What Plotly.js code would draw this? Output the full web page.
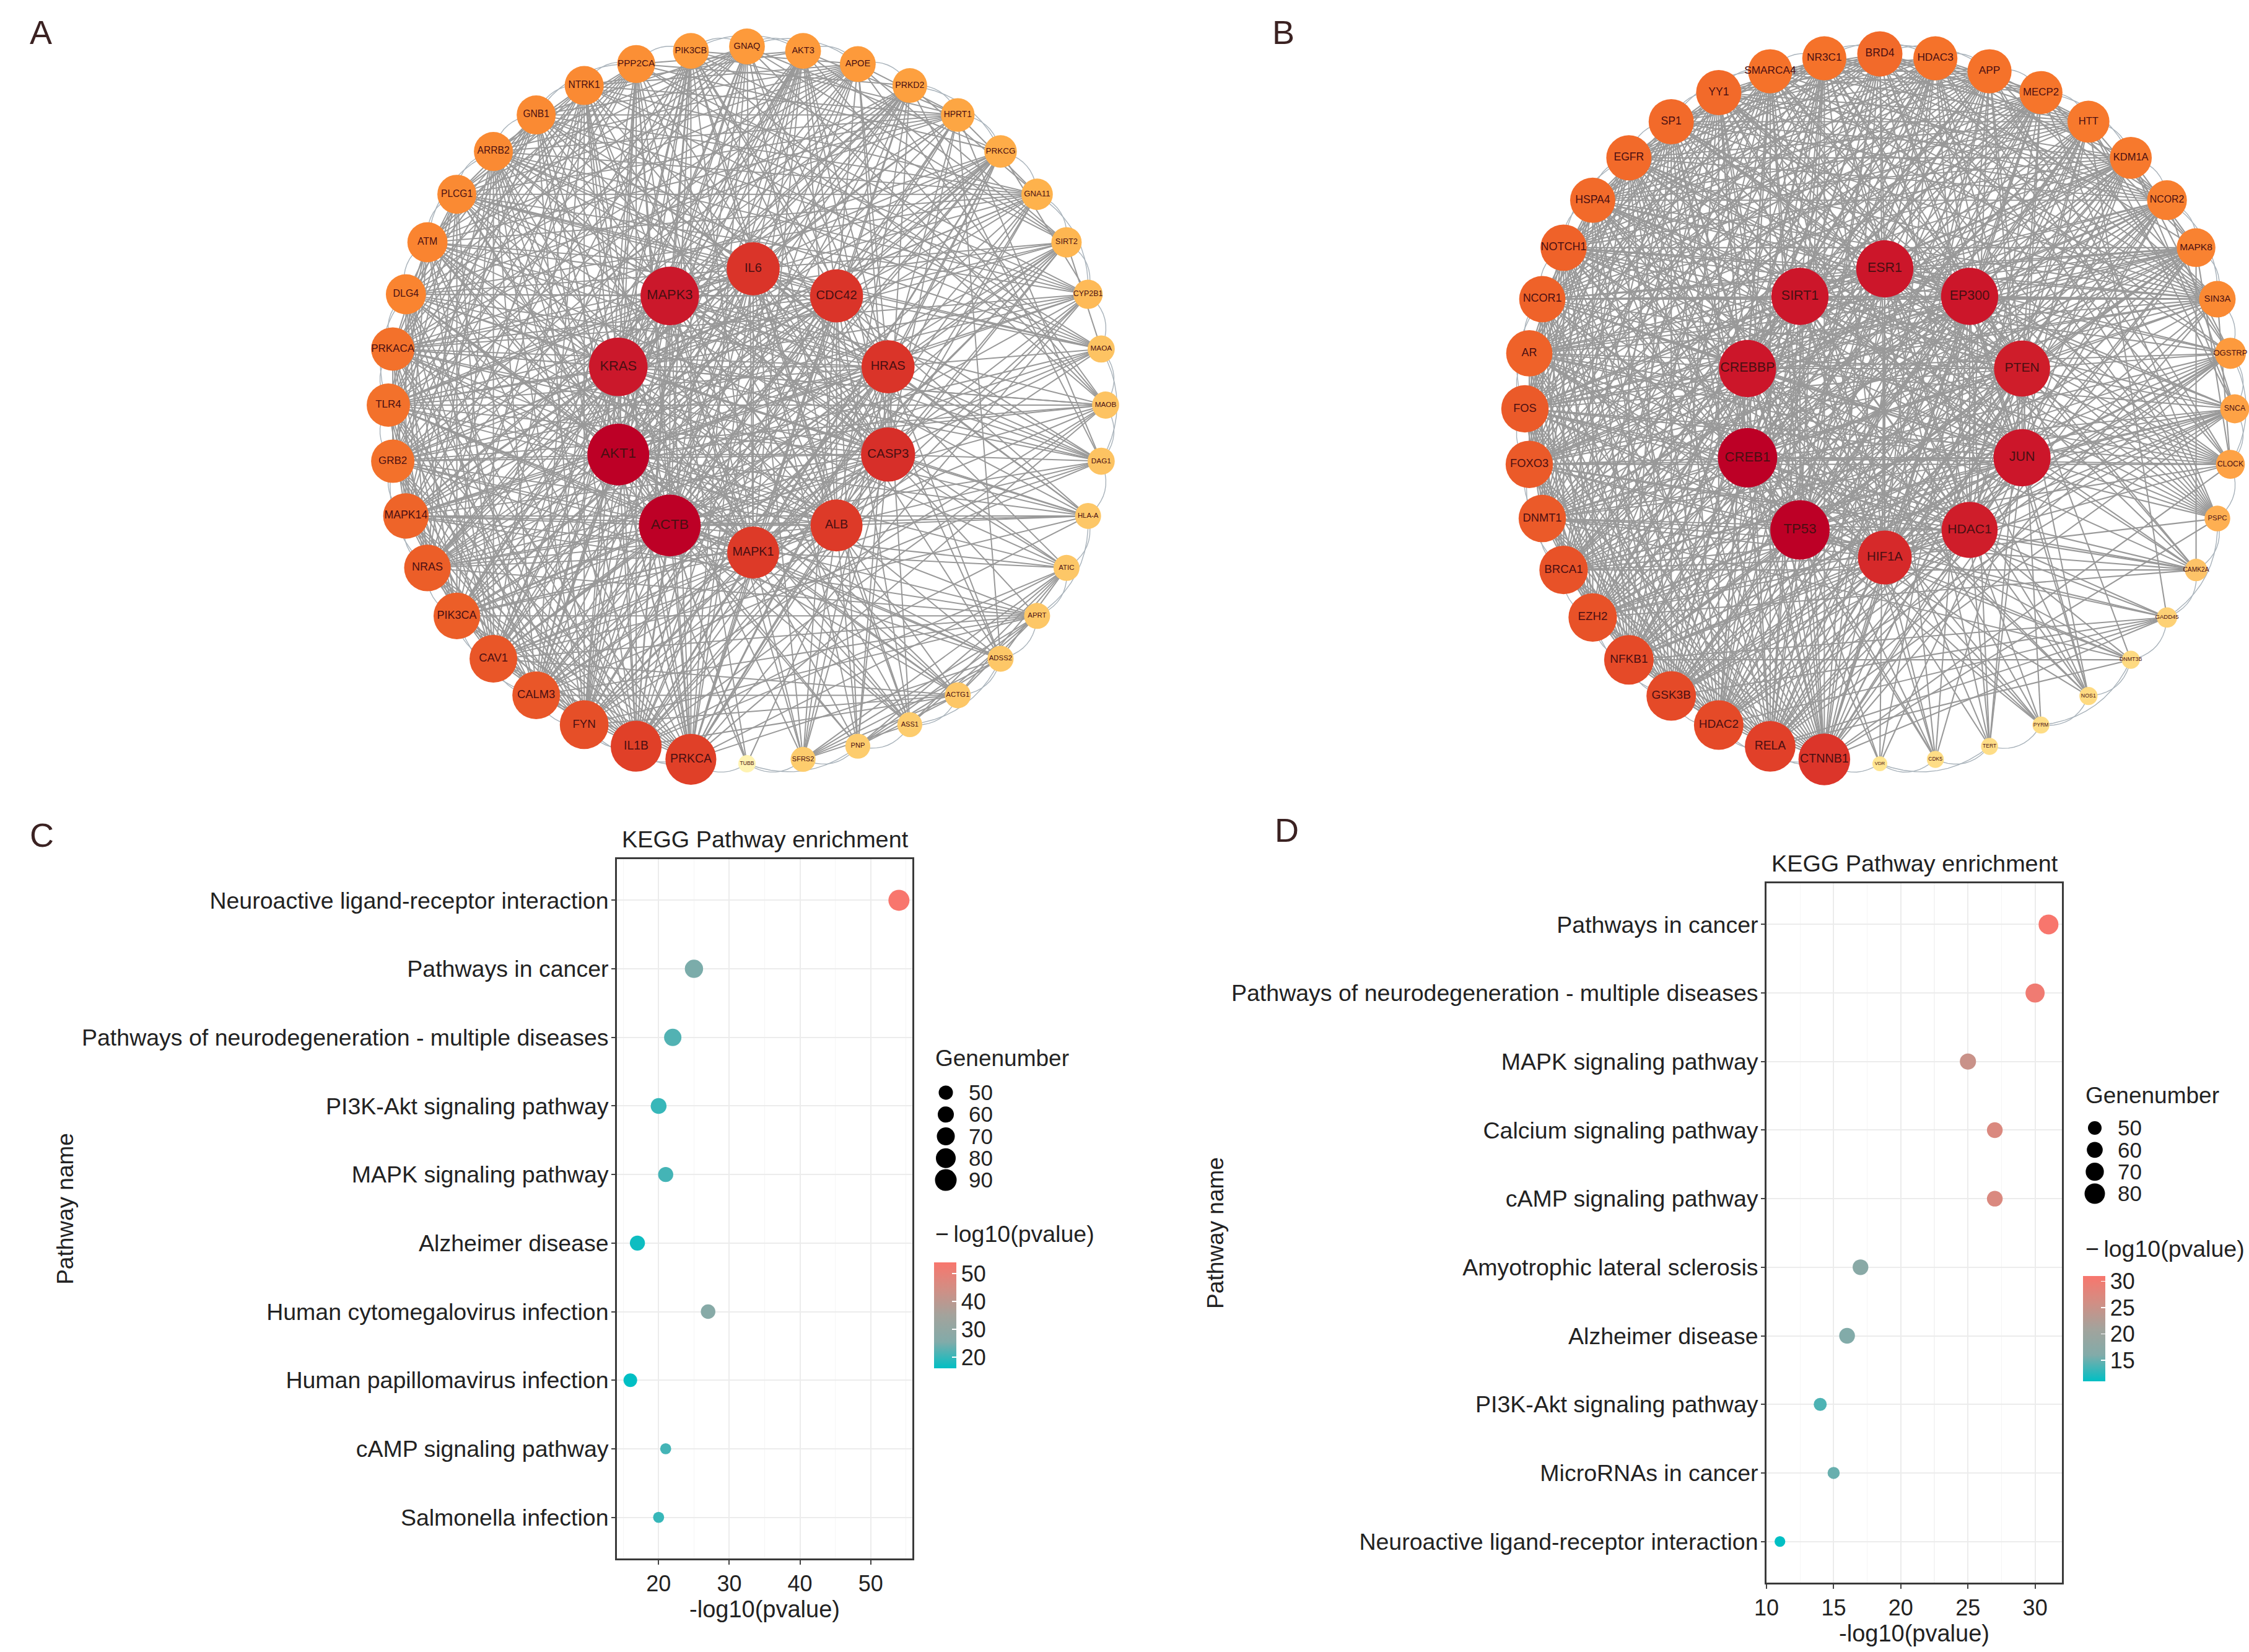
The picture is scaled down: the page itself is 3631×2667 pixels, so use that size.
<!DOCTYPE html>
<html><head><meta charset="utf-8">
<script src="https://cdn.plot.ly/plotly-3.0.1.min.js"></script>
<style>html,body{margin:0;padding:0;background:#fff}</style></head>
<body><div id="chart" style="width:3631px;height:2667px"></div>
<script>
// ---------- DATA: network A ----------
const innerNamesA = ["IL6","CDC42","HRAS","CASP3","ALB","MAPK1","ACTB","AKT1","KRAS","MAPK3"];
const innerDegA   = [41,41,41,42,40,40,49,49,46,46];
const outerNamesA = ["GNAQ","AKT3","APOE","PRKD2","HPRT1","PRKCG","GNA11","SIRT2","CYP2B1","MAOA","MAOB","DAG1","HLA-A","ATIC","APRT","ADSS2","ACTG1","ASS1","PNP","SFRS2","TUBB","PRKCA","IL1B","FYN","CALM3","CAV1","PIK3CA","NRAS","MAPK14","GRB2","TLR4","PRKACA","DLG4","ATM","PLCG1","ARRB2","GNB1","NTRK1","PPP2CA","PIK3CB"];
const outerDegA   = [25,25,25,24,23,22,21,20,19,17,17,17,16,16,16,16,16,15,15,15,8,39,39,37,36,36,35,35,34,32,32,32,29,29,28,28,28,28,27,25];
const clusterA    = ["ATIC","APRT","ADSS2","ACTG1","ASS1","PNP","SFRS2"];
// ---------- DATA: network B ----------
const innerNamesB = ["ESR1","EP300","PTEN","JUN","HDAC1","HIF1A","TP53","CREB1","CREBBP","SIRT1"];
const innerDegB   = [47,47,46,47,46,44,49,49,47,47];
const outerNamesB = ["BRD4","HDAC3","APP","MECP2","HTT","KDM1A","NCOR2","MAPK8","SIN3A","OGSTRP","SNCA","CLOCK","PSPC","CAMK2A","GADD45","DNMT3B","NOS1","PYRM","TERT","CDK5","VDR","CTNNB1","RELA","HDAC2","GSK3B","NFKB1","EZH2","BRCA1","DNMT1","FOXO3","FOS","AR","NCOR1","NOTCH1","HSPA4","EGFR","SP1","YY1","SMARCA4","NR3C1"];
const outerDegB   = [36,35,35,34,33,33,31,30,28,23,21,21,18,15,13,11,11,10,10,10,8,42,41,40,40,40,39,39,38,38,38,37,37,37,36,36,36,36,35,35];
// ---------- DATA: panel C ----------
const pathwaysC = ["Neuroactive ligand-receptor interaction","Pathways in cancer","Pathways of neurodegeneration - multiple diseases","PI3K-Akt signaling pathway","MAPK signaling pathway","Alzheimer disease","Human cytomegalovirus infection","Human papillomavirus infection","cAMP signaling pathway","Salmonella infection"];
const logpC  = [54,25,22,20,21,17,27,16,21,20];
const genesC = [90,75,70,62,58,58,55,50,36,36];
const legendGenesC = [50,60,70,80,90];
const colorTicksC  = [20,30,40,50];
const xTicksC      = [20,30,40,50];
// ---------- DATA: panel D ----------
const pathwaysD = ["Pathways in cancer","Pathways of neurodegeneration - multiple diseases","MAPK signaling pathway","Calcium signaling pathway","cAMP signaling pathway","Amyotrophic lateral sclerosis","Alzheimer disease","PI3K-Akt signaling pathway","MicroRNAs in cancer","Neuroactive ligand-receptor interaction"];
const logpD  = [31,30,25,27,27,17,16,14,15,11];
const genesD = [80,77,64,62,62,62,62,50,46,40];
const legendGenesD = [50,60,70,80];
const colorTicksD  = [15,20,25,30];
const xTicksD      = [10,15,20,25,30];

// ---------- page geometry ----------
const W=3631,H=2667;
const FONT="Liberation Sans";
const domX=(a,b)=>[a/W,b/W];
const domY=(top,bottom)=>[1-bottom/H,1-top/H];

const heatA=[[0,"#FFF5B5"],[0.18,"#FDCB6C"],[0.32,"#FEB24C"],[0.42,"#FD9A3B"],[0.53,"#F9812E"],[0.66,"#EC5E28"],[0.76,"#E03F28"],[0.92,"#CC1A2B"],[1,"#BD0026"]];
const heatB=[[0,"#FFE590"],[0.11,"#FDD47A"],[0.25,"#FEAD50"],[0.4,"#FD9438"],[0.66,"#F5722A"],[0.78,"#E54A28"],[0.83,"#DC352A"],[0.95,"#CC172A"],[1,"#BD0026"]];
const ggScale=[[0,"#00BFC4"],[0.25,"#82ABA9"],[0.5,"#A3A39C"],[0.75,"#D28E84"],[1,"#F8766D"]];

function network(innerN,innerD,outerN,outerD,cfg,xa,ya,extra){
  const names=innerN.concat(outerN), deg=innerD.concat(outerD), n=names.length, ni=innerN.length, no=outerN.length;
  const px=[],py=[];
  innerN.forEach((_,i)=>{const t=2*Math.PI*i/ni;px.push(cfg.ix+cfg.ir*Math.sin(t));py.push(cfg.iy-cfg.ir*Math.cos(t));});
  outerN.forEach((_,i)=>{const t=2*Math.PI*i/no;px.push(cfg.R*Math.sin(t));py.push(-cfg.R*Math.cos(t));});
  const rem=deg.slice(), linked=new Set(), key=(a,b)=>a<b?a+"_"+b:b+"_"+a;
  const ex=[],ey=[],ax=[],ay=[];
  const link=(a,b)=>{linked.add(key(a,b));rem[a]--;rem[b]--;};
  const arc=(a,b,bulge)=>{
    link(a,b);
    const mx=(px[a]+px[b])/2,my=(py[a]+py[b])/2,l=Math.hypot(mx,my);
    const cx=mx+mx/l*bulge,cy=my+my/l*bulge;
    for(let k=0;k<=10;k++){const t=k/10,u=1-t;
      ax.push(u*u*px[a]+2*u*t*cx+t*t*px[b]);ay.push(u*u*py[a]+2*u*t*cy+t*t*py[b]);}
    ax.push(null);ay.push(null);
  };
  for(let i=0;i<no;i++){
    arc(ni+i,ni+(i+1)%no,cfg.bulge);
    if(i%3===0) arc(ni+i,ni+(i+2)%no,cfg.bulge*1.5);
  }
  const straight=(a,b)=>{ex.push(px[a],px[b],null);ey.push(py[a],py[b],null);};
  for(let i=0;i<extra.length;i++)for(let j=i+1;j<extra.length;j++){
    const a=names.indexOf(extra[i]),b=names.indexOf(extra[j]);
    if(!linked.has(key(a,b))){link(a,b);straight(a,b);}
  }
  // remaining links: each node in rising degree order attaches to the nodes with the most free capacity, as a share of their degree
  const order=names.map((_,i)=>i).sort((a,b)=>deg[a]-deg[b]||a-b);
  const score=v=>rem[v]/deg[v]+rem[v]*1e-3;
  order.forEach(u=>{
    while(rem[u]>0){
      let best=-1;
      for(let v=0;v<n;v++){
        if(v===u||rem[v]<=0||linked.has(key(u,v)))continue;
        if(best<0||score(v)>score(best))best=v;
      }
      if(best<0)break;
      link(u,best);straight(u,best);
    }
  });
  const size=deg.map(d=>cfg.s0+cfg.s1*d);
  return [
    {type:"scatter",mode:"lines",x:ex,y:ey,xaxis:xa,yaxis:ya,hoverinfo:"skip",showlegend:false,cliponaxis:false,
     line:{color:"#999999",width:cfg.lw}},
    {type:"scatter",mode:"lines",x:ax,y:ay,xaxis:xa,yaxis:ya,hoverinfo:"skip",showlegend:false,cliponaxis:false,
     line:{color:"#A8B2BA",width:1.4}},
    {type:"scatter",mode:"markers+text",x:px,y:py,xaxis:xa,yaxis:ya,text:names,textposition:"middle center",showlegend:false,cliponaxis:false,
     textfont:{family:FONT,color:"#4A0F12",size:size.map(d=>3+0.2*d)},
     marker:{size:size,color:deg,cmin:cfg.cmin,cmax:cfg.cmax,colorscale:cfg.scale,showscale:false,line:{width:0},opacity:1}}
  ];
}

function dotTrace(cats,vals,genes,xa,ya,d0,ds,cb){
  return {type:"scatter",mode:"markers",x:vals,y:cats,xaxis:xa,yaxis:ya,showlegend:false,cliponaxis:false,
    marker:{size:genes.map(g=>d0+ds*(g-50)),color:vals,cmin:Math.min(...vals),cmax:Math.max(...vals),colorscale:ggScale,line:{width:0},opacity:1,
      showscale:true,colorbar:cb}};
}
function cbar(left,top,bottom,ticks){
  return {x:left/W,xanchor:"left",xpad:0,y:1-bottom/H,yanchor:"bottom",ypad:0,len:bottom-top,lenmode:"pixels",
    thickness:36,thicknessmode:"pixels",outlinewidth:0,borderwidth:0,tickvals:ticks,ticks:"inside",ticklen:7,tickwidth:1.5,tickcolor:"#fff",
    tickfont:{family:FONT,size:36,color:"#222"}};
}
function legendTrace(genes,xa,ya,d0,ds){
  return {type:"scatter",mode:"markers",x:genes.map(()=>0),y:genes,xaxis:xa,yaxis:ya,showlegend:false,hoverinfo:"skip",cliponaxis:false,
    marker:{size:genes.map(g=>d0+ds*(g-50)),color:"#000000",opacity:1,line:{width:0}}};
}

const hidden=(domain,range)=>({domain,range,visible:false,fixedrange:true});
function catAxis(domain,cats,standoff){
  return {domain,type:"category",categoryorder:"array",categoryarray:cats,range:[cats.length-1+0.6,-0.6],
    showgrid:true,gridcolor:"#ECECEC",gridwidth:2,zeroline:false,showline:true,mirror:true,linecolor:"#3A3A3A",linewidth:3,
    ticks:"outside",ticklen:6,tickwidth:2,tickcolor:"#444",ticklabelstandoff:-3,tickfont:{family:FONT,size:37.5,color:"#222"},
    title:{text:"Pathway name",standoff,font:{family:FONT,size:37,color:"#222"}}};
}
function numAxis(domain,range,tickvals,minorStep,standoff){
  return {domain,range,tickvals,showgrid:true,gridcolor:"#ECECEC",gridwidth:2,zeroline:false,showline:true,mirror:true,linecolor:"#3A3A3A",linewidth:3,
    minor:{dtick:minorStep,tick0:0,showgrid:true,gridcolor:"#F5F5F5",gridwidth:1.2,ticks:""},
    ticks:"outside",ticklen:7,tickwidth:2,tickcolor:"#444",tickfont:{family:FONT,size:36,color:"#222"},
    title:{text:"-log10(pvalue)",standoff,font:{family:FONT,size:38,color:"#222"}}};
}
function legendY(domain,range,tickvals,anchor){
  return {domain,range,tickvals,side:"right",anchor,showgrid:false,zeroline:false,showline:false,
    ticks:"outside",ticklen:10,tickcolor:"rgba(0,0,0,0)",tickfont:{family:FONT,size:35,color:"#222"},fixedrange:true};
}

const cfgA={ix:10,iy:9,ir:229,R:579,s0:14,s1:1.75,cmin:7.7,cmax:49,scale:heatA,bulge:34,lw:2.0};
const cfgB={ix:8,iy:7,ir:233,R:573,s0:10,s1:1.75,cmin:8,cmax:49,scale:heatB,bulge:34,lw:2.1};

const data=[
  ...network(innerNamesA,innerDegA,outerNamesA,outerDegA,cfgA,"x","y",clusterA),
  ...network(innerNamesB,innerDegB,outerNamesB,outerDegB,cfgB,"x2","y2",[]),
  dotTrace(pathwaysC,logpC,genesC,"x3","y3",22,0.3,cbar(1508,2038,2209,colorTicksC)),
  dotTrace(pathwaysD,logpD,genesD,"x4","y4",21,0.367,cbar(3363,2060,2230,colorTicksD)),
  legendTrace(legendGenesC,"x5","y5",23,0.3),
  legendTrace(legendGenesD,"x6","y6",22,0.367)
];

const note=(text,x,y,size,extra)=>Object.assign({text,x:x/W,y:1-y/H,xref:"paper",yref:"paper",showarrow:false,xanchor:"left",yanchor:"middle",
  font:{family:FONT,size,color:"#222"}},extra||{});

const layout={
  width:W,height:H,margin:{l:0,r:0,t:0,b:0,pad:0},paper_bgcolor:"#fff",plot_bgcolor:"rgba(0,0,0,0)",showlegend:false,
  xaxis :hidden(domX(1206-640,1206+640),[-640,640]),
  yaxis :hidden(domY(14,1294),[640,-640]),
  xaxis2:hidden(domX(3035-596,3035+596),[-596,596]),
  yaxis2:hidden(domY(64,1256),[596,-596]),
  xaxis3:Object.assign(numAxis(domX(996,1473),[14.1,55.9],xTicksC,5,0),{anchor:"y3"}),
  yaxis3:Object.assign(catAxis(domY(1387,2516),pathwaysC,3),{anchor:"x3"}),
  xaxis4:Object.assign(numAxis(domX(2852,3329),[10,32],xTicksD,2.5,0),{anchor:"y4"}),
  yaxis4:Object.assign(catAxis(domY(1426,2555),pathwaysD,2),{anchor:"x4"}),
  xaxis5:hidden(domX(1508,1546),[-1,1]),
  yaxis5:legendY(domY(1746,1923),[95.1,44.9],legendGenesC,"x5"),
  xaxis6:hidden(domX(3363,3401),[-1,1]),
  yaxis6:legendY(domY(1803,1945),[85.1,44.9],legendGenesD,"x6"),
  annotations:[
    note("A",46,52,54,{font:{family:FONT,size:54,color:"#3B2222"}}),
    note("B",2052,52,54,{font:{family:FONT,size:54,color:"#3B2222"}}),
    note("C",46,1348,54,{font:{family:FONT,size:54,color:"#3B2222"}}),
    note("D",2056,1340,54,{font:{family:FONT,size:54,color:"#3B2222"}}),
    note("KEGG Pathway enrichment",1235,1355,37.8,{xanchor:"center"}),
    note("KEGG Pathway enrichment",3091,1394,37.8,{xanchor:"center"}),
    note("Genenumber",1508,1708,37),
    note("Genenumber",3365,1768,37),
    note("\u2212\u2009log10(pvalue)",1508,1992,37.5),
    note("\u2212\u2009log10(pvalue)",3365,2016,37.5)
  ]
};
Plotly.newPlot("chart",data,layout,{staticPlot:true,displayModeBar:false});
</script></body></html>
